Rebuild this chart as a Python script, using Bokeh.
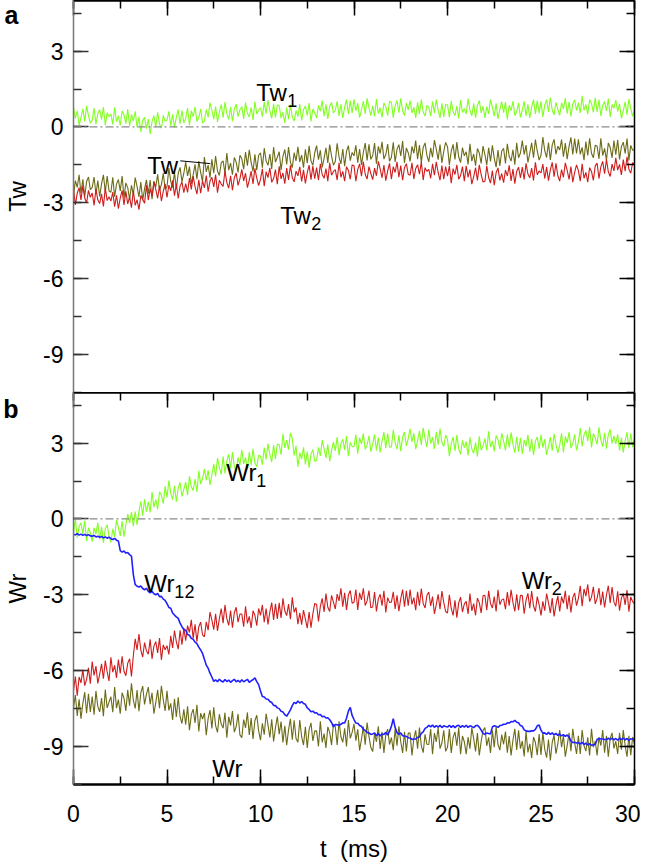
import numpy as np
from bokeh.plotting import figure
from bokeh.layouts import column
from bokeh.models import (Range1d, LinearAxis, SingleIntervalTicker, FixedTicker, Span, Label,
                          Arrow, CustomJSTickFormatter)
from bokeh.embed import file_html
from bokeh.resources import INLINE

# time grid (ms), 0.1 ms sampling
t_ms = np.round(np.linspace(0.0, 30.0, 301), 2)

# ---------------- panel a : twist ----------------
tw1 = [
    0.79, 0.34, 0.64, 0.07, 0.37, 0.72, 0.22, 0.83, 0.45, 0.15,
    0.26, 0.75, 0.11, 0.53, 0.68, 0.30, 0.79, 0.07, 0.56, 0.41,
    0.51, 0.10, 0.78, 0.21, 0.44, 0.06, 0.63, 0.48, 0.13, 0.70,
    0.04, 0.50, 0.23, 0.62, -0.02, 0.40, -0.20, 0.26, 0.38, -0.07,
    0.31, -0.28, 0.21, 0.45, -0.01, 0.58, 0.11, -0.05, 0.46, 0.22,
    0.27, 0.62, 0.05, 0.50, -0.03, 0.39, 0.69, 0.12, 0.65, 0.16,
    0.34, 0.75, 0.07, 0.64, 0.41, 0.79, 0.22, 0.37, 0.72, 0.15,
    0.24, 0.69, 0.39, 0.96, 0.66, 0.31, 0.81, 0.20, 0.58, 0.88,
    0.37, 0.98, 0.52, 0.30, 0.79, 0.22, 0.71, 0.90, 0.41, 0.68,
    0.81, 0.32, 0.96, 0.54, 0.39, 0.77, 0.28, 1.00, 0.51, 0.66,
    0.76, 0.41, 0.98, 0.53, 1.06, 0.64, 0.34, 0.91, 0.38, 0.87,
    0.84, 0.35, 0.58, 0.16, 0.77, 0.31, 0.88, 0.39, 0.23, 0.65,
    0.41, 0.90, 0.26, 0.68, 0.83, 0.45, 0.94, 0.22, 0.71, 0.56,
    0.36, 0.85, 0.62, 1.04, 0.43, 0.89, 0.32, 0.81, 0.97, 0.55,
    0.66, 1.01, 0.44, 0.89, 0.36, 0.78, 1.08, 0.51, 1.04, 0.55,
    1.09, 0.64, 0.94, 0.37, 0.67, 1.02, 0.52, 1.13, 0.75, 0.45,
    0.83, 0.42, 1.10, 0.53, 0.76, 0.38, 0.95, 0.80, 0.45, 1.02,
    0.98, 0.37, 0.83, 1.05, 0.56, 1.13, 0.64, 0.45, 0.94, 0.67,
    1.04, 0.55, 0.78, 0.36, 0.97, 0.51, 1.08, 0.59, 0.43, 0.85,
    0.78, 0.43, 1.00, 0.55, 1.08, 0.66, 0.36, 0.93, 0.40, 0.89,
    0.87, 0.38, 1.02, 0.60, 0.45, 0.83, 0.34, 1.06, 0.57, 0.72,
    0.51, 1.12, 0.66, 0.44, 0.93, 0.36, 0.85, 1.04, 0.55, 0.82,
    0.36, 0.81, 0.51, 1.08, 0.78, 0.43, 0.93, 0.32, 0.70, 1.00,
    0.57, 0.98, 0.30, 0.87, 0.64, 1.02, 0.45, 0.60, 0.95, 0.38,
    0.66, 1.01, 0.44, 0.89, 0.36, 0.78, 1.08, 0.51, 1.04, 0.55,
    1.01, 0.40, 0.86, 1.08, 0.59, 1.16, 0.67, 0.48, 0.97, 0.70,
    0.46, 0.95, 0.72, 1.14, 0.53, 0.99, 0.42, 0.91, 1.07, 0.65,
    0.96, 0.55, 1.23, 0.66, 0.89, 0.51, 1.08, 0.93, 0.58, 1.15,
    0.59, 1.08, 0.44, 0.86, 1.01, 0.63, 1.12, 0.40, 0.89, 0.74,
    1.06, 0.61, 0.91, 0.34, 0.64, 0.99, 0.49, 1.10, 0.72, 0.42,
    0.68,
]

tw = [
    -2.71, -2.12, -2.39, -1.89, -2.62, -2.07, -2.75, -2.16, -1.98, -2.48,
    -2.39, -1.98, -2.66, -2.12, -2.75, -2.25, -1.89, -2.57, -1.94, -2.53,
    -2.58, -1.99, -2.76, -2.26, -2.08, -2.53, -1.94, -2.80, -2.21, -2.40,
    -2.86, -2.31, -2.68, -2.00, -2.36, -2.77, -2.18, -2.90, -2.45, -2.09,
    -2.64, -2.10, -2.86, -2.14, -2.37, -1.87, -2.51, -2.28, -1.83, -2.46,
    -2.37, -1.63, -2.15, -2.40, -1.79, -2.45, -1.84, -1.60, -2.17, -1.83,
    -1.39, -1.94, -1.57, -2.25, -1.89, -1.48, -2.07, -1.35, -1.80, -2.16,
    -1.19, -1.78, -1.51, -2.01, -1.28, -1.83, -1.15, -1.74, -1.92, -1.42,
    -1.34, -1.84, -1.03, -1.71, -1.43, -1.89, -1.21, -1.39, -1.80, -1.12,
    -1.26, -1.67, -0.99, -1.53, -0.90, -1.40, -1.76, -1.08, -1.71, -1.12,
    -1.02, -1.61, -0.84, -1.34, -1.52, -1.07, -1.66, -0.80, -1.39, -1.20,
    -0.98, -1.70, -1.16, -0.89, -1.48, -0.80, -1.39, -1.61, -1.02, -1.34,
    -0.79, -1.38, -1.11, -1.61, -0.88, -1.43, -0.75, -1.34, -1.52, -1.02,
    -0.74, -1.29, -0.92, -1.60, -1.24, -0.83, -1.42, -0.70, -1.15, -1.51,
    -1.37, -0.65, -1.19, -1.46, -0.87, -1.55, -0.96, -0.74, -1.33, -1.01,
    -1.14, -0.73, -1.41, -0.87, -1.50, -1.00, -0.64, -1.32, -0.69, -1.28,
    -1.14, -0.64, -1.45, -0.77, -1.05, -0.59, -1.27, -1.09, -0.68, -1.36,
    -1.20, -0.61, -1.38, -0.88, -0.70, -1.15, -0.56, -1.42, -0.83, -1.02,
    -1.36, -0.77, -1.04, -0.54, -1.27, -0.72, -1.40, -0.81, -0.63, -1.13,
    -1.38, -0.83, -1.20, -0.52, -0.88, -1.29, -0.70, -1.42, -0.97, -0.61,
    -0.78, -1.50, -0.96, -0.69, -1.28, -0.60, -1.19, -1.41, -0.82, -1.14,
    -0.98, -1.48, -0.67, -1.35, -1.07, -1.53, -0.85, -1.03, -1.44, -0.76,
    -1.09, -1.50, -0.82, -1.36, -0.73, -1.23, -1.59, -0.91, -1.54, -0.95,
    -0.85, -1.44, -0.67, -1.17, -1.35, -0.90, -1.49, -0.63, -1.22, -1.03,
    -0.54, -1.09, -0.72, -1.40, -1.04, -0.63, -1.22, -0.50, -0.95, -1.31,
    -1.12, -0.40, -0.94, -1.21, -0.62, -1.30, -0.71, -0.49, -1.08, -0.76,
    -0.91, -0.50, -1.18, -0.64, -1.27, -0.77, -0.41, -1.09, -0.46, -1.05,
    -0.49, -1.08, -0.81, -1.31, -0.58, -1.13, -0.45, -1.04, -1.22, -0.72,
    -0.76, -1.26, -0.45, -1.13, -0.85, -1.31, -0.63, -0.81, -1.22, -0.54,
    -1.10, -0.51, -1.28, -0.78, -0.60, -1.05, -0.46, -1.32, -0.73, -0.92,
    -0.90,
]

tw2 = [
    -2.47, -3.08, -2.62, -2.40, -2.89, -2.32, -2.81, -3.00, -2.51, -2.78,
    -2.61, -3.10, -2.46, -2.88, -3.03, -2.65, -3.14, -2.42, -2.91, -2.76,
    -2.93, -2.58, -3.15, -2.70, -3.23, -2.81, -2.51, -3.08, -2.55, -3.04,
    -2.77, -3.19, -2.52, -3.10, -2.88, -3.27, -2.71, -2.87, -3.02, -2.30,
    -2.89, -2.44, -2.74, -2.17, -2.47, -2.82, -2.32, -2.93, -2.55, -2.25,
    -2.79, -2.30, -2.53, -2.11, -2.72, -2.26, -2.83, -2.34, -2.18, -2.60,
    -2.24, -2.59, -2.02, -2.47, -1.94, -2.36, -2.66, -2.09, -2.62, -2.13,
    -2.41, -1.92, -2.56, -2.14, -1.99, -2.37, -1.88, -2.60, -2.11, -2.26,
    -2.35, -1.74, -2.20, -2.42, -1.93, -2.50, -2.01, -1.82, -2.31, -2.04,
    -1.68, -2.13, -1.83, -2.40, -2.10, -1.75, -2.25, -1.64, -2.02, -2.32,
    -2.07, -1.66, -2.34, -1.77, -2.00, -1.62, -2.19, -2.04, -1.69, -2.26,
    -1.56, -2.05, -1.82, -2.24, -1.63, -2.09, -1.52, -2.01, -2.17, -1.75,
    -1.93, -1.58, -2.15, -1.70, -2.23, -1.81, -1.51, -2.08, -1.55, -2.04,
    -1.61, -2.10, -1.46, -1.88, -2.03, -1.65, -2.14, -1.42, -1.91, -1.76,
    -1.69, -2.10, -1.42, -1.99, -1.76, -2.14, -1.57, -1.72, -2.07, -1.50,
    -1.53, -2.14, -1.68, -1.46, -1.95, -1.38, -1.87, -2.06, -1.57, -1.84,
    -2.08, -1.63, -1.93, -1.36, -1.66, -2.01, -1.51, -2.12, -1.74, -1.44,
    -2.06, -1.57, -1.80, -1.38, -1.99, -1.53, -2.10, -1.61, -1.45, -1.87,
    -1.91, -1.42, -2.06, -1.64, -1.49, -1.87, -1.38, -2.10, -1.61, -1.76,
    -1.68, -2.03, -1.46, -1.91, -1.38, -1.80, -2.10, -1.53, -2.06, -1.57,
    -1.95, -1.54, -2.22, -1.65, -1.88, -1.50, -2.07, -1.92, -1.57, -2.14,
    -1.54, -1.99, -1.69, -2.26, -1.96, -1.61, -2.11, -1.50, -1.88, -2.18,
    -2.15, -1.54, -2.00, -2.22, -1.73, -2.30, -1.81, -1.62, -2.11, -1.84,
    -2.20, -1.71, -1.94, -1.52, -2.13, -1.67, -2.24, -1.75, -1.59, -2.01,
    -1.59, -2.08, -1.44, -1.86, -2.01, -1.63, -2.12, -1.40, -1.89, -1.74,
    -1.82, -1.47, -2.04, -1.59, -2.12, -1.70, -1.40, -1.97, -1.44, -1.93,
    -2.14, -1.69, -1.99, -1.42, -1.72, -2.07, -1.57, -2.18, -1.80, -1.50,
    -1.73, -2.14, -1.46, -2.03, -1.80, -2.18, -1.61, -1.76, -2.11, -1.54,
    -1.43, -2.04, -1.58, -1.36, -1.85, -1.28, -1.77, -1.96, -1.47, -1.74,
    -1.22, -1.71, -1.48, -1.90, -1.29, -1.75, -1.18, -1.67, -1.83, -1.41,
    -1.48,
]

# ---------------- panel b : writhe ----------------
wr1 = [
    -0.53, 0.00, -0.74, -0.30, -0.15, -0.59, -0.06, -0.88, -0.35, -0.54,
    -0.90, -0.35, -0.60, -0.14, -0.81, -0.31, -0.94, -0.39, -0.23, -0.69,
    -0.93, -0.39, -0.71, -0.04, -0.34, -0.67, -0.08, -0.70, -0.22, 0.19,
    -0.16, 0.27, -0.29, 0.29, -0.24, 0.29, 0.70, 0.13, 0.78, 0.29,
    0.68, 0.26, 1.06, 0.47, 0.77, 0.39, 1.07, 0.94, 0.61, 1.29,
    0.85, 1.52, 1.02, 0.76, 1.31, 0.68, 1.23, 1.44, 0.89, 1.18,
    1.46, 0.94, 1.69, 1.27, 1.13, 1.58, 1.07, 1.90, 1.38, 1.59,
    1.98, 1.53, 1.92, 1.35, 1.74, 2.17, 1.68, 2.41, 2.04, 1.76,
    2.47, 1.80, 2.30, 2.56, 2.01, 2.64, 2.09, 1.88, 2.43, 2.14,
    2.73, 2.18, 2.43, 1.97, 2.64, 2.14, 2.77, 2.22, 2.06, 2.52,
    2.48, 2.15, 2.82, 2.35, 2.98, 2.55, 2.25, 2.92, 2.37, 2.96,
    2.93, 2.54, 3.37, 2.81, 3.12, 2.74, 3.40, 3.18, 2.51, 2.89,
    2.07, 2.62, 2.37, 2.83, 2.16, 2.66, 2.03, 2.58, 2.74, 2.28,
    2.32, 2.83, 2.49, 3.12, 2.78, 2.41, 2.95, 2.28, 2.70, 3.04,
    2.69, 3.24, 2.52, 2.98, 3.15, 2.73, 3.28, 2.48, 3.03, 2.86,
    2.87, 3.34, 2.58, 3.21, 2.96, 3.38, 2.75, 2.92, 3.29, 2.66,
    2.97, 3.34, 2.71, 3.22, 2.63, 3.09, 3.43, 2.80, 3.39, 2.84,
    2.85, 3.52, 3.02, 2.76, 3.31, 2.68, 3.23, 3.44, 2.89, 3.18,
    3.56, 3.05, 3.39, 2.76, 3.10, 3.47, 2.93, 3.60, 3.18, 2.84,
    3.53, 2.98, 3.23, 2.77, 3.44, 2.94, 3.57, 3.02, 2.86, 3.32,
    3.15, 2.48, 2.98, 3.24, 2.69, 3.32, 2.77, 2.56, 3.11, 2.82,
    3.06, 2.51, 3.23, 2.77, 2.60, 3.02, 2.47, 3.27, 2.72, 2.89,
    3.18, 2.71, 3.47, 2.84, 3.09, 2.67, 3.30, 3.13, 2.76, 3.39,
    3.08, 2.71, 3.34, 2.83, 3.42, 2.96, 2.62, 3.25, 2.66, 3.21,
    2.57, 3.12, 2.87, 3.33, 2.66, 3.16, 2.53, 3.08, 3.24, 2.78,
    3.33, 2.82, 3.16, 2.53, 2.87, 3.24, 2.70, 3.37, 2.95, 2.61,
    2.92, 3.39, 2.63, 3.26, 3.01, 3.43, 2.80, 2.97, 3.34, 2.71,
    3.04, 3.59, 2.87, 3.33, 3.50, 3.08, 3.63, 2.83, 3.38, 3.21,
    2.95, 3.62, 3.12, 2.86, 3.41, 2.78, 3.33, 3.54, 2.99, 3.28,
    2.97, 3.34, 2.71, 3.22, 2.63, 3.09, 3.43, 2.80, 3.39, 2.84,
    3.25,
]

wr12 = [
    -0.60, -0.63, -0.58, -0.64, -0.60, -0.65, -0.61, -0.66, -0.62, -0.67,
    -0.68, -0.65, -0.71, -0.68, -0.73, -0.69, -0.75, -0.71, -0.76, -0.72,
    -0.78, -0.81, -0.77, -0.84, -0.87, -1.25, -1.31, -1.27, -1.35, -1.33,
    -1.41, -1.47, -2.20, -2.60, -2.66, -2.69, -2.65, -2.75, -2.80, -2.74,
    -2.86, -2.92, -2.87, -2.96, -3.00, -2.94, -3.07, -3.06, -3.17, -3.22,
    -3.35, -3.50, -3.53, -3.72, -3.80, -3.87, -3.93, -4.12, -4.26, -4.37,
    -4.40, -4.57, -4.60, -4.72, -4.76, -4.87, -4.93, -5.07, -5.18, -5.32,
    -5.55, -5.78, -5.90, -6.10, -6.25, -6.42, -6.36, -6.44, -6.34, -6.41,
    -6.45, -6.35, -6.43, -6.37, -6.46, -6.39, -6.34, -6.44, -6.38, -6.46,
    -6.36, -6.44, -6.39, -6.34, -6.46, -6.40, -6.36, -6.28, -6.43, -6.55,
    -6.80, -7.02, -7.04, -7.12, -7.13, -7.22, -7.26, -7.37, -7.38, -7.47,
    -7.50, -7.60, -7.63, -7.74, -7.80, -7.68, -7.55, -7.38, -7.25, -7.30,
    -7.20, -7.28, -7.22, -7.30, -7.33, -7.47, -7.53, -7.62, -7.60, -7.67,
    -7.66, -7.74, -7.73, -7.82, -7.80, -7.87, -7.86, -7.94, -8.05, -8.22,
    -8.13, -8.14, -8.16, -8.12, -8.06, -8.07, -7.88, -7.60, -7.45, -7.77,
    -7.93, -8.07, -8.08, -8.17, -8.20, -8.32, -8.36, -8.44, -8.46, -8.52,
    -8.50, -8.46, -8.57, -8.48, -8.58, -8.50, -8.52, -8.44, -8.54, -8.40,
    -8.20, -7.90, -8.25, -8.45, -8.52, -8.46, -8.57, -8.58, -8.60, -8.65,
    -8.66, -8.72, -8.70, -8.70, -8.63, -8.62, -8.48, -8.42, -8.28, -8.24,
    -8.16, -8.22, -8.15, -8.24, -8.17, -8.23, -8.16, -8.25, -8.18, -8.21,
    -8.23, -8.16, -8.24, -8.17, -8.25, -8.18, -8.16, -8.24, -8.17, -8.23,
    -8.16, -8.24, -8.18, -8.21, -8.25, -8.18, -8.16, -8.23, -8.35, -8.48,
    -8.52, -8.46, -8.48, -8.50, -8.22, -8.18, -8.20, -8.24, -8.17, -8.16,
    -8.12, -8.12, -8.06, -8.07, -8.01, -8.02, -7.96, -8.04, -8.06, -8.17,
    -8.20, -8.34, -8.38, -8.40, -8.40, -8.38, -8.38, -8.32, -8.18, -8.15,
    -8.35, -8.47, -8.46, -8.52, -8.44, -8.52, -8.46, -8.54, -8.48, -8.56,
    -8.50, -8.58, -8.53, -8.60, -8.54, -8.62, -8.78, -8.84, -8.83, -8.86,
    -8.84, -8.90, -8.83, -8.92, -8.86, -8.94, -8.88, -8.96, -8.93, -8.92,
    -8.72, -8.68, -8.70, -8.70, -8.72, -8.72, -8.67, -8.73, -8.66, -8.74,
    -8.68, -8.75, -8.67, -8.73, -8.66, -8.74, -8.68, -8.76, -8.69, -8.71,
    -8.70,
]

wr2 = [
    -6.79, -6.23, -6.99, -6.25, -6.48, -5.96, -6.59, -6.35, -5.89, -6.51,
    -5.64, -6.19, -5.82, -6.50, -6.14, -5.73, -6.32, -5.60, -6.05, -6.41,
    -5.47, -6.06, -5.79, -6.29, -5.56, -6.11, -5.43, -6.02, -6.20, -5.70,
    -5.53, -6.23, -5.41, -4.74, -5.18, -4.55, -5.19, -5.46, -4.89, -5.21,
    -5.35, -4.76, -5.53, -5.03, -4.85, -5.30, -4.71, -5.57, -4.98, -5.17,
    -5.01, -5.36, -4.62, -5.10, -4.41, -4.85, -5.15, -4.40, -4.97, -4.32,
    -4.81, -4.22, -4.49, -3.99, -4.72, -4.17, -4.85, -4.26, -4.08, -4.58,
    -4.66, -4.07, -4.40, -3.68, -4.00, -4.38, -3.75, -4.43, -3.94, -3.54,
    -4.12, -3.40, -3.94, -4.21, -3.62, -4.30, -3.71, -3.49, -4.08, -3.76,
    -3.76, -4.26, -3.45, -4.13, -3.85, -4.31, -3.63, -3.81, -4.22, -3.54,
    -3.81, -3.40, -4.08, -3.54, -4.17, -3.67, -3.31, -3.99, -3.36, -3.95,
    -3.32, -3.91, -3.14, -3.64, -3.82, -3.37, -3.96, -3.10, -3.69, -3.50,
    -4.16, -3.71, -4.18, -3.60, -3.96, -4.32, -3.68, -4.30, -3.75, -3.34,
    -3.38, -4.05, -3.46, -3.14, -3.68, -2.95, -3.49, -3.66, -3.02, -3.29,
    -3.56, -2.97, -3.24, -2.74, -3.47, -2.92, -3.60, -3.01, -2.83, -3.33,
    -3.29, -2.79, -3.60, -2.92, -3.20, -2.74, -3.42, -3.24, -2.83, -3.51,
    -3.48, -2.89, -3.66, -3.16, -2.98, -3.43, -2.84, -3.70, -3.11, -3.30,
    -3.29, -2.88, -3.56, -3.02, -3.65, -3.15, -2.79, -3.47, -2.84, -3.43,
    -2.79, -3.38, -3.11, -3.61, -2.88, -3.43, -2.75, -3.34, -3.52, -3.02,
    -2.89, -3.44, -3.07, -3.75, -3.39, -2.98, -3.57, -2.85, -3.30, -3.66,
    -3.72, -3.00, -3.54, -3.81, -3.22, -3.90, -3.31, -3.09, -3.68, -3.36,
    -3.26, -3.76, -2.95, -3.63, -3.35, -3.81, -3.13, -3.31, -3.72, -3.04,
    -3.02, -3.61, -2.84, -3.34, -3.52, -3.07, -3.66, -2.80, -3.39, -3.20,
    -3.16, -3.57, -2.89, -3.43, -2.80, -3.30, -3.66, -2.98, -3.61, -3.02,
    -3.03, -3.75, -3.21, -2.94, -3.53, -2.85, -3.44, -3.66, -3.07, -3.39,
    -3.81, -3.26, -3.63, -2.95, -3.31, -3.72, -3.13, -3.85, -3.40, -3.04,
    -3.66, -3.07, -3.34, -2.84, -3.57, -3.02, -3.70, -3.11, -2.93, -3.43,
    -3.14, -2.64, -3.45, -2.77, -3.05, -2.59, -3.27, -3.09, -2.68, -3.36,
    -3.14, -2.73, -3.41, -2.87, -3.50, -3.00, -2.64, -3.32, -2.69, -3.28,
    -3.45, -2.86, -3.63, -3.13, -2.95, -3.40, -2.81, -3.67, -3.08, -3.27,
    -3.35,
]

wr = [
    -7.46, -6.96, -7.79, -7.13, -7.90, -7.29, -6.85, -7.68, -6.91, -7.63,
    -7.02, -7.74, -6.80, -7.41, -7.63, -7.08, -7.80, -6.75, -7.47, -7.24,
    -7.03, -7.64, -6.65, -7.48, -7.14, -7.70, -6.87, -7.09, -7.59, -6.76,
    -7.38, -6.50, -7.16, -7.49, -6.77, -7.60, -6.88, -6.61, -7.33, -6.94,
    -6.65, -7.32, -6.87, -7.70, -7.26, -6.76, -7.48, -6.60, -7.15, -7.59,
    -6.80, -7.57, -7.29, -7.95, -7.11, -7.83, -7.05, -7.82, -8.09, -7.53,
    -8.13, -7.41, -8.35, -7.74, -7.52, -8.07, -7.35, -8.40, -7.68, -7.91,
    -7.67, -8.55, -7.89, -7.56, -8.28, -7.45, -8.17, -8.44, -7.72, -8.11,
    -8.27, -7.66, -8.65, -7.82, -8.16, -7.60, -8.43, -8.21, -7.71, -8.54,
    -8.65, -7.93, -8.26, -7.65, -8.54, -7.87, -8.70, -7.98, -7.76, -8.37,
    -8.75, -8.08, -8.53, -7.70, -8.14, -8.64, -7.92, -8.80, -8.25, -7.81,
    -8.51, -8.01, -8.84, -8.18, -8.95, -8.34, -7.90, -8.73, -7.96, -8.68,
    -8.83, -7.95, -8.61, -8.94, -8.22, -9.05, -8.33, -8.06, -8.78, -8.39,
    -8.38, -8.99, -8.00, -8.83, -8.49, -9.05, -8.22, -8.44, -8.94, -8.11,
    -8.22, -8.94, -8.00, -8.61, -8.83, -8.28, -9.00, -7.95, -8.67, -8.44,
    -8.10, -8.77, -8.32, -9.15, -8.71, -8.21, -8.93, -8.05, -8.60, -9.04,
    -9.20, -8.48, -8.81, -8.20, -9.09, -8.42, -9.25, -8.53, -8.31, -8.92,
    -8.64, -9.14, -8.31, -8.97, -8.20, -8.81, -9.25, -8.42, -9.19, -8.47,
    -8.47, -9.35, -8.69, -8.36, -9.08, -8.25, -8.97, -9.24, -8.52, -8.91,
    -8.92, -8.31, -9.30, -8.47, -8.81, -8.25, -9.08, -8.86, -8.36, -9.19,
    -9.03, -8.31, -9.25, -8.64, -8.42, -8.97, -8.25, -9.30, -8.58, -8.81,
    -9.30, -8.63, -9.08, -8.25, -8.69, -9.19, -8.47, -9.35, -8.80, -8.36,
    -8.25, -8.97, -8.64, -9.25, -8.36, -9.03, -8.20, -8.92, -9.14, -8.53,
    -8.91, -8.41, -9.24, -8.58, -9.35, -8.74, -8.30, -9.13, -8.36, -9.08,
    -8.78, -9.39, -8.40, -9.23, -8.89, -9.45, -8.62, -8.84, -9.34, -8.51,
    -9.33, -8.45, -9.11, -9.44, -8.72, -9.55, -8.83, -8.56, -9.28, -8.89,
    -8.35, -9.02, -8.57, -9.40, -8.96, -8.46, -9.18, -8.30, -8.85, -9.29,
    -8.57, -9.29, -8.35, -8.96, -9.18, -8.63, -9.35, -8.30, -9.02, -8.79,
    -9.35, -8.63, -8.96, -8.35, -9.24, -8.57, -9.40, -8.68, -8.46, -9.07,
    -8.79, -9.29, -8.46, -9.12, -8.35, -8.96, -9.40, -8.57, -9.34, -8.62,
    -8.90,
]

GREEN = "#80ff20"
OLIVE = "#6b6b18"
RED = "#d01c1c"
BLUE = "#2020ff"
FONT = "Liberation Sans"

FRAME_W = 561
FRAME_H = 392


def blank_fmt():
    return CustomJSTickFormatter(code="return ''")


def int_fmt():
    # plain hyphen-minus integers, e.g. "-3"
    return CustomJSTickFormatter(code="return String(Math.round(tick))")


def y_ticker():
    return SingleIntervalTicker(interval=3, num_minor_ticks=2)


def x_ticker():
    return SingleIntervalTicker(interval=5, num_minor_ticks=2)


def make_panel(ylabel, letter, letter_y, bottom):
    p = figure(frame_width=FRAME_W, frame_height=FRAME_H,
               x_range=Range1d(0, 30), y_range=Range1d(-10.5, 5),
               output_backend="svg", toolbar_location=None,
               x_axis_location=None, y_axis_location=None,
               min_border_left=66, min_border_right=6,
               min_border_top=0, min_border_bottom=0)
    p.outline_line_color = None
    p.grid.visible = False
    p.background_fill_color = "white"
    p.border_fill_color = "white"

    left = LinearAxis(ticker=y_ticker(), formatter=int_fmt(), axis_label=ylabel,
                      major_tick_in=15, major_tick_out=0,
                      minor_tick_in=8, minor_tick_out=0,
                      major_tick_line_width=1.5, minor_tick_line_width=1.5,
                      major_tick_line_color="#333333", minor_tick_line_color="#333333",
                      axis_line_color="#777777", axis_line_width=1.5,
                      major_label_standoff=10,
                      major_label_text_font=FONT, major_label_text_font_size="23px",
                      major_label_text_color="black",
                      axis_label_text_font=FONT, axis_label_text_font_size="24px",
                      axis_label_text_font_style="normal", axis_label_standoff=9,
                      axis_label_text_color="black")
    p.add_layout(left, "left")

    # panel letter: lone label of an outer, line-less axis, pulled inward
    letter_axis = LinearAxis(ticker=FixedTicker(ticks=[letter_y]),
                             formatter=CustomJSTickFormatter(code="return '%s'" % letter),
                             major_tick_in=0, major_tick_out=0,
                             minor_tick_in=0, minor_tick_out=0,
                             major_tick_line_color=None, minor_tick_line_color=None,
                             axis_line_color=None, major_label_standoff=-17,
                             major_label_text_font=FONT, major_label_text_font_size="25px",
                             major_label_text_font_style="bold",
                             major_label_text_color="black")
    p.add_layout(letter_axis, "left")

    right = LinearAxis(ticker=y_ticker(), formatter=blank_fmt(),
                       major_tick_in=15, major_tick_out=0,
                       minor_tick_in=8, minor_tick_out=0,
                       major_tick_line_width=1.5, minor_tick_line_width=1.5,
                       axis_line_color="black", axis_line_width=1.5,
                       major_label_standoff=0)
    p.add_layout(right, "right")

    top = LinearAxis(ticker=x_ticker(), formatter=blank_fmt(),
                     major_tick_in=15, major_tick_out=0,
                     minor_tick_in=8, minor_tick_out=0,
                     major_tick_line_width=1.5, minor_tick_line_width=1.5,
                     axis_line_color="black", axis_line_width=2.5,
                     major_label_standoff=0)
    p.add_layout(top, "above")

    if bottom:
        bot = LinearAxis(ticker=x_ticker(), formatter=int_fmt(), axis_label="t\u00a0\u00a0(ms)",
                         major_tick_in=15, major_tick_out=0,
                         minor_tick_in=8, minor_tick_out=0,
                         major_tick_line_width=1.5, minor_tick_line_width=1.5,
                         axis_line_color="black", axis_line_width=2.5,
                         major_label_standoff=20,
                         major_label_text_font=FONT, major_label_text_font_size="23px",
                         major_label_text_color="black",
                         axis_label_text_font=FONT, axis_label_text_font_size="24px",
                         axis_label_text_font_style="normal", axis_label_standoff=10,
                         axis_label_text_color="black")
        p.add_layout(bot, "below")

    p.add_layout(Span(location=0, dimension="width", line_color="#8a8a8a",
                      line_width=1.2, line_dash="8 3 2 3"))
    return p


def name(p, x, y, txt, sub=None, sub_dx=30):
    p.add_layout(Label(x=x, y=y, text=txt, text_font=FONT, text_font_size="24px",
                       text_color="black", text_baseline="alphabetic"))
    if sub:
        p.add_layout(Label(x=x, y=y, x_offset=sub_dx, y_offset=-8, text=sub,
                           text_font=FONT, text_font_size="18px",
                           text_color="black", text_baseline="alphabetic"))


# ---------------- panel a ----------------
pa = make_panel("Tw", "a", 4.43, bottom=False)
pa.line(t_ms, tw1, line_color=GREEN, line_width=1.1)
pa.line(t_ms, tw, line_color=OLIVE, line_width=1.1)
pa.line(t_ms, tw2, line_color=RED, line_width=1.1)

name(pa, 9.77, 1.35, "Tw", "1", 31)
name(pa, 3.95, -1.53, "Tw")
pa.add_layout(Arrow(end=None, x_start=5.71, y_start=-1.34, x_end=7.31, y_end=-1.45,
                    line_color="black", line_width=1))
name(pa, 11.05, -3.5, "Tw", "2", 31)

# ---------------- panel b ----------------
pb = make_panel("Wr", "b", 4.35, bottom=True)
pb.line(t_ms, wr, line_color=OLIVE, line_width=1.1)
pb.line(t_ms, wr2, line_color=RED, line_width=1.1)
pb.line(t_ms, wr1, line_color=GREEN, line_width=1.1)
pb.line(t_ms, wr12, line_color=BLUE, line_width=1.6)

name(pb, 8.17, 1.85, "Wr", "1", 30)
name(pb, 3.79, -2.54, "Wr", "12", 30)
name(pb, 23.97, -2.42, "Wr", "2", 30)
name(pb, 7.42, -9.87, "Wr")

layout = column(pa, pb, spacing=0)
open("out.html", "w").write(file_html(layout, INLINE))
